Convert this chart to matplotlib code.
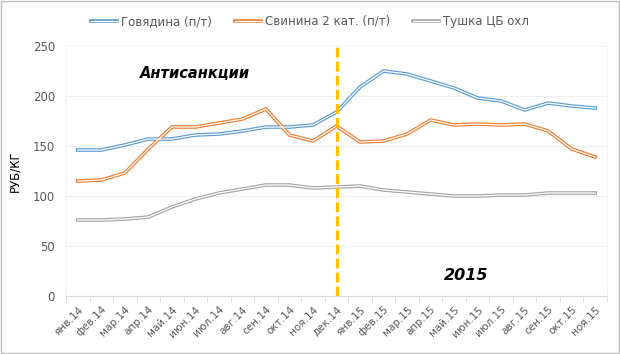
import numpy as np
import matplotlib
matplotlib.use("Agg")
import matplotlib.pyplot as plt
from matplotlib.lines import Line2D
from matplotlib.legend_handler import HandlerBase

months = ["янв.14", "фев.14", "мар.14", "апр.14", "май.14", "июн.14", "июл.14",
          "авг.14", "сен.14", "окт.14", "ноя.14", "дек.14", "янв.15", "фев.15",
          "мар.15", "апр.15", "май.15", "июн.15", "июл.15", "авг.15", "сен.15",
          "окт.15", "ноя.15"]
beef = [146, 146, 151, 157, 157, 161, 162, 165, 169, 169, 171, 184, 209, 225,
        222, 215, 208, 198, 195, 186, 193, 190, 188]
pork = [115, 116, 123, 147, 169, 169, 173, 177, 187, 161, 155, 170, 154, 155,
        162, 176, 171, 172, 171, 172, 165, 147, 139]
chicken = [76, 76, 77, 79, 89, 97, 103, 107, 111, 111, 108, 109, 110, 106,
           104, 102, 100, 100, 101, 101, 103, 103, 103]
series_names = ["Говядина (п/т)", "Свинина 2 кат. (п/т)", "Тушка ЦБ охл"]
colors = ["#5B9BD5", "#ED7D31", "#A5A5A5"]
sanction_month = "дек.14"

TXT = "#595959"
plt.rcParams["font.family"] = ["DejaVu Sans"]


class DoubleLine(HandlerBase):
    def __init__(self, color):
        super().__init__()
        self.color = color

    def create_artists(self, legend, orig, xd, yd, w, h, fs, trans):
        y = yd + h / 2
        a = Line2D([xd, xd + w], [y, y], color=self.color, lw=2.6, transform=trans)
        b = Line2D([xd, xd + w], [y, y], color="white", lw=0.9, transform=trans)
        return [a, b]


fig = plt.figure(figsize=(6.2, 3.54), dpi=100)
ax = fig.add_axes([0.1065, 0.1638, 0.8725, 0.7062])

x = np.arange(len(months))
handles = []
for vals, c in zip([beef, pork, chicken], colors):
    ax.plot(x, vals, color=c, lw=2.6, solid_joinstyle="miter", zorder=3)
    ax.plot(x, vals, color="white", lw=0.9, solid_joinstyle="miter", zorder=4)
    handles.append(Line2D([], [], color=c))

xs = months.index(sanction_month)
ax.plot([xs, xs], [0, 250], color="#FFC000", lw=2.2, ls=(0, (3.2, 1.4)), zorder=5)

ax.text(5, 223, "Антисанкции", fontsize=10.5, fontweight="bold", style="italic",
        ha="center", va="center", color="black")
ax.text(16.5, 21, "2015", fontsize=11.5, fontweight="bold", style="italic",
        ha="center", va="center", color="black")

ax.set_xlim(-0.5, len(months) - 0.5)
ax.set_ylim(0, 250)
ax.set_yticks(range(0, 251, 50))
ax.set_xticks(x)
ax.set_xticklabels(months, rotation=45, ha="right", rotation_mode="anchor")
ax.set_xticks(np.arange(-0.5, len(months), 1), minor=True)
ax.tick_params(axis="x", which="major", length=0, pad=6, labelsize=7.5, colors=TXT)
ax.tick_params(axis="x", which="minor", length=4, color="#D9D9D9")
ax.tick_params(axis="y", length=0, labelsize=8.5, colors=TXT, pad=8)
ax.grid(axis="y", color="#EFEFEF", lw=0.8)
ax.set_axisbelow(True)
for s in ["top", "right", "left"]:
    ax.spines[s].set_color("#F2F2F2")
ax.spines["bottom"].set_color("#D9D9D9")
ax.set_ylabel("РУБ/КГ", fontsize=8.5, color="black", labelpad=8)

fig.legend(handles, series_names, loc="center", bbox_to_anchor=(0.5, 0.06 + 0.88),
           ncol=3, frameon=False, fontsize=8.5, handlelength=2.2, handletextpad=0.3,
           columnspacing=2.0, labelcolor=TXT,
           handler_map={h: DoubleLine(c) for h, c in zip(handles, colors)})

fig.patches.append(plt.Rectangle((0.001, 0.002), 0.997, 0.995, transform=fig.transFigure,
                                 fill=False, edgecolor="#BFBFBF", lw=1))
fig.savefig("out.png", dpi=100)
